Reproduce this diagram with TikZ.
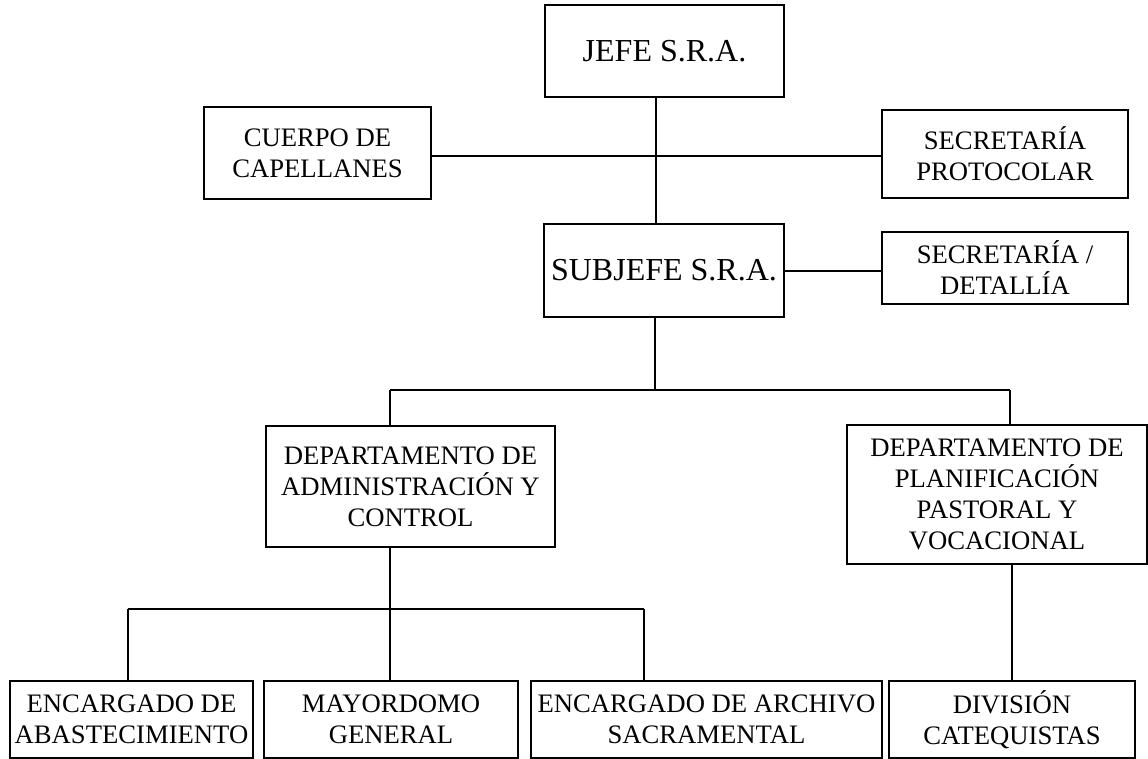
\documentclass[tikz,border=0pt]{standalone}
\usepackage{fontspec}
\setmainfont{Liberation Serif}
\begin{document}
\begin{tikzpicture}[x=1pt,y=-1pt,
  orgbox/.style={draw, line width=1.3pt, inner sep=0pt, align=center,
    font=\fontsize{26.67pt}{31pt}\selectfont},
  bigbox/.style={orgbox, font=\fontsize{32pt}{36pt}\selectfont},
  link/.style={line width=1.4pt}]
\useasboundingbox (0,0) rectangle (1148,759);
\fill[white] (0,0) rectangle (1148,759);
% boxes
\node[bigbox, minimum width=239pt, minimum height=92pt] (jefe) at (664.5,51) {JEFE S.R.A.};
\node[orgbox, minimum width=227pt, minimum height=92pt] (cuerpo) at (317.5,153) {CUERPO DE\\CAPELLANES};
\node[orgbox, minimum width=246pt, minimum height=88pt] (proto) at (1005,154) {SECRETARÍA\\PROTOCOLAR};
\node[bigbox, minimum width=240pt, minimum height=93pt] (subjefe) at (664,270.5) {SUBJEFE S.R.A.};
\node[orgbox, minimum width=246pt, minimum height=72pt] (det) at (1005,268) {SECRETARÍA /\\DETALLÍA};
\node[orgbox, minimum width=289pt, minimum height=121pt] (adm) at (410.5,486.5) {DEPARTAMENTO DE\\ADMINISTRACIÓN Y\\CONTROL};
\node[orgbox, minimum width=300pt, minimum height=139pt] (plan) at (997,494.5) {DEPARTAMENTO DE\\PLANIFICACIÓN\\PASTORAL Y\\VOCACIONAL};
\node[orgbox, minimum width=243pt, minimum height=77pt] (abast) at (131.5,719.5) {ENCARGADO DE\\ABASTECIMIENTO};
\node[orgbox, minimum width=254pt, minimum height=77pt] (may) at (391,719.5) {MAYORDOMO\\GENERAL};
\node[orgbox, minimum width=351pt, minimum height=77pt] (arch) at (706.5,719.5) {ENCARGADO DE ARCHIVO\\SACRAMENTAL};
\node[orgbox, minimum width=246pt, minimum height=77pt] (div) at (1012,719.5) {DIVISIÓN\\CATEQUISTAS};
% junction coordinates
\coordinate (a1) at (656,156);
\coordinate (s1) at (655,390);
\coordinate (j1) at (390,390);
\coordinate (j2) at (1010,390);
\coordinate (k1) at (128,609);
\coordinate (k2) at (390,609);
\coordinate (k3) at (644,609);
% connectors
\draw[link] (a1 |- jefe.south) -- (a1 |- subjefe.north);
\draw[link] (cuerpo.east |- a1) -- (proto.west |- a1);
\draw[link] (subjefe.east |- 0,271) -- (det.west |- 0,271);
\draw[link] (s1 |- subjefe.south) -- (s1);
\draw[link] (j1) -- (j2);
\draw[link] (j1) -- (j1 |- adm.north);
\draw[link] (j2) -- (j2 |- plan.north);
\draw[link] (k2 |- adm.south) -- (k2);
\draw[link] (k1) -- (k3);
\draw[link] (k1) -- (k1 |- abast.north);
\draw[link] (k2) -- (k2 |- may.north);
\draw[link] (k3) -- (k3 |- arch.north);
\draw[link] (div.north |- plan.south) -- (div.north);
\end{tikzpicture}
\end{document}
